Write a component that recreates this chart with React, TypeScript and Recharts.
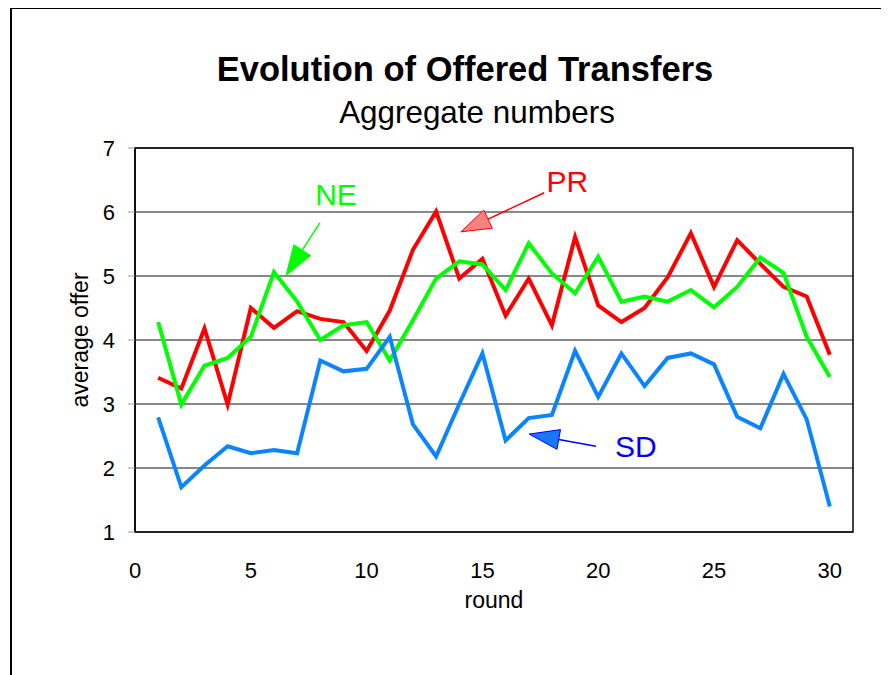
import {
  LineChart,
  Line,
  XAxis,
  YAxis,
  CartesianGrid,
  ReferenceArea,
  ReferenceLine,
  ReferenceDot,
} from 'recharts'

const FONT = '"Liberation Sans", Arial, sans-serif'

const ROUNDS = [
  1, 2, 3, 4, 5, 6, 7, 8, 9, 10, 11, 12, 13, 14, 15, 16, 17, 18, 19, 20, 21, 22, 23, 24, 25, 26, 27, 28, 29, 30,
]
const PR = [
  3.41, 3.24, 4.18, 2.99, 4.5, 4.19, 4.45, 4.33, 4.28, 3.83, 4.46, 5.41, 6.01, 4.96, 5.27, 4.38, 4.96, 4.23, 5.61,
  4.54, 4.28, 4.5, 4.98, 5.67, 4.83, 5.56, 5.19, 4.83, 4.68, 3.77,
]
const NE = [
  4.28, 2.99, 3.6, 3.72, 4.05, 5.06, 4.6, 4.0, 4.23, 4.28, 3.68, 4.31, 4.96, 5.23, 5.18, 4.78, 5.51, 5.04, 4.73,
  5.3, 4.6, 4.68, 4.6, 4.78, 4.51, 4.83, 5.29, 5.05, 4.05, 3.42,
]
const SD = [
  2.79, 1.7, 2.04, 2.34, 2.23, 2.28, 2.23, 3.68, 3.51, 3.55, 4.05, 2.68, 2.18, 3.0, 3.79, 2.43, 2.78, 2.83, 3.83,
  3.11, 3.79, 3.28, 3.72, 3.79, 3.62, 2.8, 2.62, 3.47, 2.76, 1.4,
]
const X_TICKS = [0, 5, 10, 15, 20, 25, 30]
const Y_TICKS = [1, 2, 3, 4, 5, 6, 7]

// series labels with their arrows, in data units: text point, arrow tail, arrow tip
const LABELS = [
  { name: 'NE', color: '#00ff00', text: [8.68, 6.27], tail: [7.98, 5.83], tip: [6.52, 5.01], head: '#00ff00', edge: '#00ff00' },
  { name: 'PR', color: '#ff0000', text: [18.67, 6.47], tail: [17.67, 6.3], tip: [14.07, 5.69], head: '#ff8080', edge: '#ff0000' },
  { name: 'SD', color: '#0000ff', text: [21.62, 2.33], tail: [19.9, 2.34], tip: [17.02, 2.53], head: '#1a75ff', edge: '#0000ff' },
]

const data = ROUNDS.map((round, i) => ({ round, pr: PR[i], ne: NE[i], sd: SD[i] }))

const makeArrow = (fill: string, stroke: string) => (props: any) => {
  const { x1, y1, x2, y2 } = props
  const dx = x2 - x1
  const dy = y2 - y1
  const len = Math.sqrt(dx * dx + dy * dy) || 1
  const ux = dx / len
  const uy = dy / len
  const headLen = 30
  const half = 10
  const bx = x2 - ux * headLen
  const by = y2 - uy * headLen
  const pts = `${x2},${y2} ${bx - uy * half},${by + ux * half} ${bx + uy * half},${by - ux * half}`
  return (
    <g>
      <line x1={x1} y1={y1} x2={bx} y2={by} stroke={stroke} strokeWidth={1.5} />
      <polygon points={pts} fill={fill} stroke={stroke} strokeWidth={1} />
    </g>
  )
}

const makeText = (name: string, color: string) => (props: any) => (
  <text
    x={props.cx}
    y={props.cy}
    textAnchor="middle"
    dominantBaseline="central"
    fill={color}
    fontSize={30}
    fontFamily={FONT}
  >
    {name}
  </text>
)

const App = () => {
  return (
    <div
      style={{
        position: 'relative',
        margin: '-8px -8px 0 -8px',
        width: 889,
        height: 675,
        overflow: 'hidden',
        background: '#fff',
        fontFamily: FONT,
      }}
    >
      <div
        style={{
          position: 'absolute',
          left: 10,
          top: 7,
          width: 920,
          height: 720,
          border: '2px solid #000',
        }}
      />
      <div
        style={{
          position: 'absolute',
          left: 0,
          width: 930,
          top: 52,
          textAlign: 'center',
          fontSize: 34.5,
          lineHeight: '34px',
          fontWeight: 'bold',
          color: '#000',
        }}
      >
        Evolution of Offered Transfers
      </div>
      <div
        style={{
          position: 'absolute',
          left: 0,
          width: 954,
          top: 97,
          textAlign: 'center',
          fontSize: 31.4,
          lineHeight: '31px',
          color: '#000',
        }}
      >
        Aggregate numbers
      </div>
      <div style={{ position: 'absolute', left: 0, top: 0 }}>
        <LineChart
          width={889}
          height={675}
          data={data}
          margin={{ top: 148, right: 36, left: 25, bottom: 63 }}
        >
          <CartesianGrid vertical={false} stroke="#888" strokeWidth={2} />
          <XAxis
            dataKey="round"
            type="number"
            domain={[0, 31]}
            ticks={X_TICKS}
            allowDataOverflow
            height={80}
            axisLine={false}
            tickLine={false}
            tickSize={0}
            tickMargin={30}
            tick={{ fill: '#000', fontSize: 22, fontFamily: FONT }}
            label={{
              value: 'round',
              position: 'insideBottom',
              offset: 4,
              fill: '#000',
              fontSize: 23,
              fontFamily: FONT,
            }}
          />
          <YAxis
            type="number"
            domain={[1, 7]}
            ticks={Y_TICKS}
            width={110}
            axisLine={{ stroke: '#000', strokeWidth: 1.5 }}
            tickLine={{ stroke: '#999' }}
            tickSize={7}
            tickMargin={13}
            tick={{ fill: '#000', fontSize: 22, fontFamily: FONT }}
            label={{
              value: 'average offer',
              angle: -90,
              position: 'center',
              fill: '#000',
              fontSize: 23,
              fontFamily: FONT,
            }}
          />
          <ReferenceArea x1={0} x2={31} y1={1} y2={7} fill="none" stroke="#000" strokeWidth={1.5} />
          <Line type="linear" dataKey="pr" stroke="#ff0000" strokeWidth={4} dot={false} isAnimationActive={false} />
          <Line type="linear" dataKey="ne" stroke="#00ff00" strokeWidth={4} dot={false} isAnimationActive={false} />
          <Line type="linear" dataKey="sd" stroke="#0a84ff" strokeWidth={4} dot={false} isAnimationActive={false} />
          {LABELS.map((l) => (
            <ReferenceLine
              key={`arrow-${l.name}`}
              segment={[
                { x: l.tail[0], y: l.tail[1] },
                { x: l.tip[0], y: l.tip[1] },
              ]}
              shape={makeArrow(l.head, l.edge)}
            />
          ))}
          {LABELS.map((l) => (
            <ReferenceDot
              key={`text-${l.name}`}
              x={l.text[0]}
              y={l.text[1]}
              r={1}
              shape={makeText(l.name, l.color)}
            />
          ))}
        </LineChart>
      </div>
    </div>
  )
}

export default App
